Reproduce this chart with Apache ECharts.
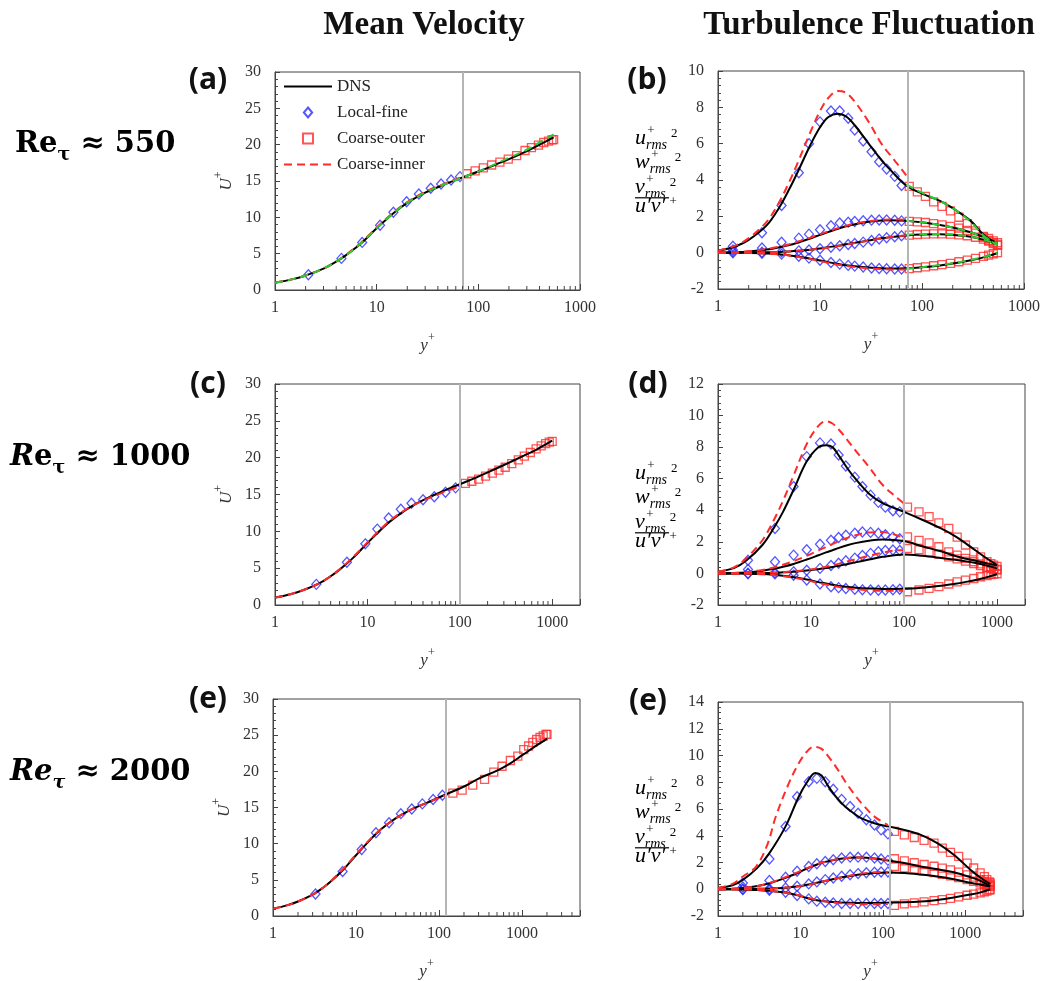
<!DOCTYPE html>
<html>
<head>
<meta charset="utf-8">
<script src="https://cdn.jsdelivr.net/npm/echarts@6/dist/echarts.min.js"></script>
<style>
  html, body { margin: 0; padding: 0; background: #fff; }
  #main { width: 1048px; height: 981px; }
</style>
</head>
<body>
<div id="main"></div>
<script>
// ---------- data ----------
// (a) Re_tau ~ 550, mean velocity U+
var aDnsX = [1, 1.5, 2, 3, 4, 5, 7, 10, 15, 20, 30, 50, 70, 100, 150, 200, 300, 400, 550];
var aDnsU = [1.0, 1.5, 2.0, 2.95, 3.9, 4.8, 6.4, 8.5, 10.7, 12.0, 13.4, 14.7, 15.5, 16.3, 17.3, 18.0, 19.1, 20.0, 21.0];
var aInnerX = [1, 1.5, 2, 3, 4, 5, 7, 10, 15, 20, 30, 50, 70];
var aInnerU = [1.0, 1.5, 2.0, 2.95, 3.9, 4.85, 6.5, 8.6, 10.8, 12.1, 13.5, 14.8, 15.6];
var aGreenX = [1, 1.5, 2, 3, 5, 7, 10, 15, 20, 30, 50, 70, 100, 150, 200, 300, 400, 550];
var aGreenU = [1.0, 1.5, 2.0, 2.95, 4.8, 6.45, 8.5, 10.7, 12.0, 13.4, 14.7, 15.5, 16.3, 17.4, 18.2, 19.3, 20.3, 21.4];
var aFineX = [2.13, 4.5, 7.2, 10.8, 14.6, 19.7, 26, 34, 43, 54, 66];
var aFineU = [2.1, 4.35, 6.55, 8.9, 10.7, 12.15, 13.2, 14.0, 14.6, 15.15, 15.6];
var aOuterX = [77, 93, 112, 135, 163, 197, 238, 288, 333, 390, 440, 490, 530, 550];
var aOuterU = [16.0, 16.4, 16.8, 17.2, 17.6, 18.0, 18.5, 19.2, 19.6, 19.95, 20.3, 20.5, 20.65, 20.7];

// (b) Re_tau ~ 550, fluctuations: uu, ww, vv, uv
var bDnsX = [1, 1.5, 2, 3, 4, 5, 6, 8, 10, 12, 15, 18, 22, 30, 40, 50, 70, 100, 150, 200, 300, 400, 550];
var bDnsUU = [0.1, 0.35, 0.7, 1.5, 2.5, 3.5, 4.4, 5.9, 6.9, 7.45, 7.65, 7.5, 7.0, 6.0, 5.1, 4.5, 3.7, 3.25, 2.85, 2.45, 1.75, 1.0, 0.45];
var bDnsWW = [0.0, 0.02, 0.06, 0.17, 0.3, 0.42, 0.55, 0.78, 0.98, 1.13, 1.32, 1.45, 1.57, 1.7, 1.77, 1.78, 1.75, 1.67, 1.52, 1.38, 1.12, 0.86, 0.52];
var bDnsVV = [0, 0, 0.01, 0.02, 0.04, 0.07, 0.1, 0.16, 0.23, 0.3, 0.38, 0.46, 0.54, 0.67, 0.79, 0.86, 0.95, 1.0, 1.01, 0.98, 0.88, 0.72, 0.45];
var bDnsUV = [0, 0, -0.01, -0.04, -0.09, -0.15, -0.21, -0.33, -0.43, -0.52, -0.62, -0.69, -0.75, -0.82, -0.86, -0.87, -0.86, -0.8, -0.7, -0.6, -0.42, -0.26, -0.02];
var bInnerX = [1, 1.5, 2, 3, 4, 5, 6, 8, 10, 12, 15, 18, 22, 30, 40, 50, 60, 70];
var bInnerUU = [0.1, 0.4, 0.8, 1.7, 2.8, 3.9, 4.9, 6.6, 7.8, 8.5, 8.9, 8.8, 8.3, 7.2, 6.0, 5.3, 4.75, 4.25];
var bInnerWW = [0, 0.03, 0.08, 0.2, 0.33, 0.46, 0.6, 0.82, 1.02, 1.17, 1.35, 1.48, 1.6, 1.73, 1.8, 1.82, 1.82, 1.8];
var bInnerVV = [0, 0, 0.01, 0.02, 0.04, 0.07, 0.1, 0.16, 0.22, 0.29, 0.37, 0.45, 0.53, 0.66, 0.78, 0.86, 0.92, 0.96];
var bInnerUV = [0, 0, -0.01, -0.05, -0.1, -0.16, -0.23, -0.35, -0.46, -0.56, -0.66, -0.73, -0.79, -0.86, -0.9, -0.92, -0.93, -0.93];
var bFineX = [1.4, 2.7, 4.2, 6.2, 7.8, 10, 12.8, 15.6, 18.9, 21.9, 26.5, 32, 38, 45, 54, 63];
var bFineUU = [0.35, 1.1, 2.6, 4.4, 6.0, 7.2, 7.8, 7.8, 7.4, 6.75, 6.15, 5.55, 5.0, 4.6, 4.2, 3.7];
var bFineWW = [0.15, 0.26, 0.57, 0.8, 1.02, 1.26, 1.48, 1.63, 1.68, 1.72, 1.76, 1.79, 1.8, 1.8, 1.78, 1.75];
var bFineVV = [0.05, 0.02, 0.05, 0.1, 0.15, 0.22, 0.3, 0.38, 0.45, 0.5, 0.58, 0.67, 0.75, 0.82, 0.88, 0.93];
var bFineUV = [0.0, -0.03, -0.08, -0.2, -0.3, -0.42, -0.54, -0.63, -0.7, -0.74, -0.79, -0.84, -0.87, -0.89, -0.9, -0.9];
var bOuterX = [75, 90, 108, 130, 157, 190, 230, 278, 335, 400, 450, 500, 550];
var bOuterUU = [3.65, 3.35, 3.1, 2.8, 2.55, 2.3, 1.95, 1.6, 1.2, 0.85, 0.65, 0.5, 0.4];
var bOuterWW = [1.72, 1.7, 1.66, 1.6, 1.53, 1.45, 1.35, 1.23, 1.08, 0.9, 0.78, 0.65, 0.55];
var bOuterVV = [0.97, 1.0, 1.02, 1.03, 1.03, 1.02, 0.98, 0.93, 0.85, 0.74, 0.65, 0.55, 0.45];
var bOuterUV = [-0.88, -0.83, -0.78, -0.72, -0.66, -0.59, -0.5, -0.41, -0.31, -0.2, -0.13, -0.06, 0.0];
var bGreenX = [70, 100, 150, 200, 300, 400, 550];
var bGreenUU = [3.75, 3.3, 2.85, 2.45, 1.7, 0.95, 0.4];
var bGreenWW = [1.75, 1.68, 1.52, 1.38, 1.12, 0.85, 0.52];
var bGreenVV = [0.98, 1.03, 1.03, 1.0, 0.88, 0.72, 0.45];
var bGreenUV = [-0.88, -0.8, -0.68, -0.58, -0.4, -0.24, -0.02];

// (c) Re_tau ~ 1000, mean velocity
var cDnsX = [1, 1.5, 2, 3, 4, 5, 7, 10, 15, 20, 30, 50, 70, 100, 150, 200, 300, 500, 700, 1000];
var cDnsU = [1.0, 1.5, 2.0, 2.95, 3.9, 4.8, 6.4, 8.4, 10.6, 11.9, 13.4, 14.8, 15.6, 16.4, 17.3, 18.0, 19.0, 20.3, 21.2, 22.3];
var cInnerX = [1, 1.5, 2, 3, 4, 5, 7, 10, 15, 20, 30, 50, 70, 100];
var cInnerU = [1.0, 1.5, 2.0, 2.95, 3.9, 4.85, 6.5, 8.5, 10.7, 12.0, 13.4, 14.7, 15.4, 16.1];
var cFineX = [2.8, 6, 9.5, 12.8, 17, 23, 30, 40, 53, 70, 90];
var cFineU = [2.8, 5.8, 8.3, 10.3, 11.8, 13.0, 13.8, 14.3, 14.7, 15.3, 15.9];
var cOuterX = [115, 135, 160, 190, 225, 265, 310, 365, 430, 500, 580, 670, 760, 850, 930, 1000];
var cOuterU = [16.5, 16.8, 17.1, 17.5, 17.9, 18.3, 18.7, 19.2, 19.7, 20.2, 20.7, 21.2, 21.6, 21.9, 22.1, 22.2];

// (d) Re_tau ~ 1000, fluctuations
var dDnsX = [1, 1.5, 2, 3, 4, 5, 6.5, 9, 12, 14.5, 17, 20, 25, 30, 42, 59, 100, 157, 250, 357, 450, 590, 800, 1000];
var dDnsUU = [0.1, 0.35, 0.8, 1.8, 2.9, 3.9, 5.3, 7.1, 8.0, 8.12, 8.0, 7.45, 6.6, 6.0, 5.05, 4.45, 3.9, 3.4, 2.85, 2.35, 1.95, 1.45, 0.9, 0.55];
var dDnsWW = [0.0, 0.02, 0.06, 0.17, 0.3, 0.42, 0.6, 0.88, 1.15, 1.33, 1.47, 1.62, 1.8, 1.92, 2.07, 2.15, 2.05, 1.72, 1.4, 1.1, 0.95, 0.8, 0.62, 0.5];
var dDnsVV = [0, 0, 0.01, 0.02, 0.04, 0.07, 0.11, 0.18, 0.27, 0.34, 0.41, 0.49, 0.6, 0.7, 0.88, 1.05, 1.2, 1.12, 0.98, 0.86, 0.78, 0.66, 0.48, 0.32];
var dDnsUV = [0, 0, -0.01, -0.04, -0.09, -0.15, -0.24, -0.38, -0.55, -0.64, -0.72, -0.79, -0.86, -0.9, -0.95, -0.98, -0.97, -0.9, -0.78, -0.65, -0.55, -0.42, -0.22, -0.05];
var dInnerX = [1, 1.5, 2, 3, 4, 5, 6.5, 9, 12, 14.5, 17, 20, 25, 30, 42, 59, 80, 100];
var dInnerUU = [0.1, 0.4, 0.95, 2.1, 3.4, 4.6, 6.2, 8.2, 9.35, 9.64, 9.5, 9.1, 8.4, 7.8, 6.75, 5.6, 4.9, 4.43];
var dInnerWW = [0, 0.03, 0.08, 0.22, 0.38, 0.55, 0.78, 1.12, 1.45, 1.68, 1.86, 2.05, 2.27, 2.42, 2.6, 2.62, 2.45, 2.25];
var dInnerVV = [0, 0, 0.01, 0.03, 0.05, 0.08, 0.13, 0.22, 0.33, 0.42, 0.52, 0.62, 0.77, 0.9, 1.12, 1.32, 1.45, 1.47];
var dInnerUV = [0, 0, -0.01, -0.05, -0.1, -0.17, -0.27, -0.43, -0.6, -0.7, -0.78, -0.86, -0.95, -1.0, -1.06, -1.1, -1.1, -1.08];
var dFineX = [2.1, 4.1, 6.5, 9, 12.5, 16.4, 19.8, 23.7, 29.6, 35.7, 43.7, 53, 63, 76, 90];
var dFineUU = [0.84, 2.85, 5.5, 7.4, 8.27, 8.2, 7.5, 6.8, 6.1, 5.5, 4.96, 4.5, 4.2, 3.97, 3.9];
var dFineWW = [0.25, 0.74, 1.16, 1.5, 1.85, 2.1, 2.28, 2.42, 2.55, 2.62, 2.6, 2.55, 2.45, 2.3, 2.2];
var dFineVV = [0.0, 0.04, 0.1, 0.2, 0.32, 0.5, 0.65, 0.8, 0.97, 1.13, 1.27, 1.38, 1.45, 1.48, 1.45];
var dFineUV = [0.0, -0.03, -0.12, -0.42, -0.67, -0.84, -0.9, -0.95, -1.0, -1.04, -1.05, -1.06, -1.05, -1.03, -1.0];
var dOuterX = [109, 145, 186, 237, 303, 373, 458, 563, 665, 780, 860, 920, 1000];
var dOuterUU = [4.2, 3.9, 3.6, 3.2, 2.85, 2.3, 1.8, 1.37, 1.05, 0.74, 0.62, 0.53, 0.45];
var dOuterWW = [2.32, 2.1, 1.94, 1.69, 1.37, 1.16, 0.95, 0.74, 0.6, 0.42, 0.35, 0.3, 0.25];
var dOuterVV = [1.58, 1.5, 1.35, 1.22, 1.05, 0.92, 0.78, 0.62, 0.5, 0.37, 0.31, 0.27, 0.22];
var dOuterUV = [-1.16, -1.05, -0.95, -0.84, -0.67, -0.53, -0.42, -0.32, -0.21, -0.13, -0.08, -0.04, -0.02];

// (e) Re_tau ~ 2000, mean velocity
var eDnsX = [1, 1.5, 2, 3, 4, 5, 7, 10, 15, 20, 30, 50, 70, 120, 200, 300, 500, 700, 1000, 1500, 2000];
var eDnsU = [1.0, 1.5, 2.0, 2.95, 3.9, 4.8, 6.4, 8.4, 10.6, 12.0, 13.5, 14.9, 15.6, 16.8, 17.9, 19.0, 20.1, 21.0, 22.2, 23.6, 24.5];
var eInnerX = [1, 1.5, 2, 3, 4, 5, 7, 10, 15, 20, 30, 50, 70, 120];
var eInnerU = [1.0, 1.5, 2.0, 2.95, 3.9, 4.85, 6.5, 8.5, 10.7, 12.0, 13.5, 14.9, 15.6, 16.7];
var eFineX = [3.25, 6.9, 11.7, 17.4, 25, 34.7, 47, 63, 85, 110];
var eFineU = [3.05, 6.15, 9.2, 11.5, 12.9, 14.15, 14.8, 15.5, 16.1, 16.7];
var eOuterX = [147, 190, 255, 354, 457, 575, 724, 890, 1050, 1200, 1350, 1500, 1650, 1800, 1950, 2000];
var eOuterU = [17.0, 17.4, 18.1, 18.9, 19.9, 20.7, 21.5, 22.1, 23.0, 23.5, 24.0, 24.4, 24.7, 24.9, 25.1, 25.1];

// (e, right) Re_tau ~ 2000, fluctuations
var fDnsX = [1, 1.5, 2, 3, 4.2, 6.6, 9.5, 12, 15.1, 18, 21.9, 27, 34.7, 45, 55, 79, 115, 182, 288, 457, 724, 1150, 1500, 2000];
var fDnsUU = [0.1, 0.3, 0.7, 1.6, 2.7, 4.7, 6.9, 8.0, 8.7, 8.5, 7.67, 6.9, 6.18, 5.65, 5.3, 4.94, 4.7, 4.44, 4.07, 3.45, 2.58, 1.46, 0.9, 0.4];
var fDnsWW = [0, 0.03, 0.1, 0.25, 0.45, 0.85, 1.25, 1.55, 1.8, 1.98, 2.1, 2.22, 2.32, 2.38, 2.38, 2.3, 2.15, 1.96, 1.7, 1.5, 1.27, 0.9, 0.65, 0.25];
var fDnsVV = [0, 0, 0.01, 0.03, 0.06, 0.12, 0.22, 0.33, 0.45, 0.56, 0.68, 0.8, 0.93, 1.05, 1.12, 1.22, 1.26, 1.22, 1.1, 0.95, 0.75, 0.48, 0.35, 0.2];
var fDnsUV = [0, 0, -0.01, -0.05, -0.12, -0.25, -0.47, -0.65, -0.8, -0.88, -0.93, -0.97, -1.0, -1.02, -1.03, -1.03, -1.0, -0.98, -0.92, -0.8, -0.62, -0.4, -0.25, 0.0];
var fInnerX = [1, 1.5, 2, 2.9, 4, 5, 7.2, 9.5, 12, 14.5, 18, 22, 28, 35, 45, 55, 79, 115];
var fInnerUU = [0.1, 0.4, 0.95, 1.7, 3.4, 5.4, 7.9, 9.4, 10.3, 10.65, 10.5, 9.9, 9.0, 8.04, 7.1, 6.43, 5.43, 4.81];
var fInnerWW = [0, 0.03, 0.1, 0.22, 0.42, 0.62, 1.0, 1.3, 1.58, 1.78, 1.98, 2.12, 2.25, 2.33, 2.38, 2.38, 2.3, 2.18];
var fInnerVV = [0, 0, 0.01, 0.03, 0.05, 0.08, 0.15, 0.23, 0.33, 0.42, 0.55, 0.68, 0.82, 0.95, 1.08, 1.17, 1.27, 1.3];
var fInnerUV = [0, 0, -0.01, -0.04, -0.1, -0.16, -0.3, -0.45, -0.62, -0.75, -0.87, -0.95, -1.02, -1.07, -1.1, -1.12, -1.12, -1.1];
var fFineX = [2, 4.2, 6.6, 9.1, 12.6, 15.8, 20, 25, 31.6, 40, 50, 63, 79, 95, 115];
var fFineUU = [0.47, 2.26, 4.69, 6.92, 8.04, 8.29, 8.04, 7.47, 6.72, 6.18, 5.68, 5.19, 4.81, 4.44, 4.14];
var fFineWW = [0.17, 0.65, 0.9, 1.34, 1.7, 1.9, 2.08, 2.2, 2.33, 2.4, 2.4, 2.4, 2.33, 2.26, 2.16];
var fFineVV = [0.0, 0.02, 0.1, 0.22, 0.4, 0.55, 0.72, 0.84, 0.97, 1.09, 1.17, 1.24, 1.27, 1.29, 1.29];
var fFineUV = [-0.02, -0.07, -0.22, -0.47, -0.72, -0.89, -0.97, -1.02, -1.07, -1.07, -1.07, -1.07, -1.07, -1.07, -1.07];
var fOuterX = [138, 182, 240, 316, 417, 525, 660, 830, 1050, 1260, 1510, 1700, 1820, 1950, 2000];
var fOuterUU = [4.32, 4.07, 3.87, 3.65, 3.45, 3.08, 2.75, 2.46, 1.96, 1.59, 1.22, 0.95, 0.72, 0.55, 0.47];
var fOuterWW = [2.28, 2.12, 1.98, 1.85, 1.72, 1.58, 1.45, 1.28, 1.08, 0.9, 0.72, 0.58, 0.48, 0.38, 0.33];
var fOuterVV = [1.7, 1.6, 1.5, 1.38, 1.25, 1.12, 1.0, 0.87, 0.72, 0.6, 0.48, 0.38, 0.3, 0.25, 0.22];
var fOuterUV = [-1.2, -1.1, -1.02, -0.95, -0.85, -0.77, -0.68, -0.57, -0.45, -0.36, -0.27, -0.2, -0.14, -0.06, -0.03];

// y+ where the local-fine / coarse-outer regions meet (grey line), per panel
var splitYPlus = [70, 72, 100, 100, 120, 120];
var xMax = [1000, 1000, 2000, 2000, 5000, 5000];
var yRange = [[0, 30, 5], [-2, 10, 2], [0, 30, 5], [-2, 12, 2], [0, 30, 5], [-2, 14, 2]];
var minorTo1000 = [2, 3, 4, 5, 6, 7, 8, 9, 20, 30, 40, 50, 60, 70, 80, 90, 200, 300, 400, 500, 600, 700, 800, 900];
var minorTo5000 = [2, 3, 4, 5, 6, 7, 8, 9, 20, 30, 40, 50, 60, 70, 80, 90, 200, 300, 400, 500, 600, 700, 800, 900, 2000, 3000, 4000];
var minorTicks = [minorTo1000, minorTo1000, minorTo1000, minorTo1000, minorTo5000, minorTo5000];

// ---------- chart ----------
var SERIF = '"Liberation Serif", "Times New Roman", serif';
var BLACK = '#000', BLUE = '#2b2bff', RED = '#ff2b2b', GREEN = '#2ccc2c', AXIS = '#444';

var grids = [
  { left: 275, top: 72, width: 305, height: 218 },
  { left: 718, top: 71, width: 306, height: 218 },
  { left: 275, top: 384, width: 305, height: 221 },
  { left: 718, top: 384, width: 307, height: 221 },
  { left: 273, top: 699, width: 307, height: 219 },
  { left: 718, top: 702, width: 305, height: 215 }
];

function pts(xs, ys) { return xs.map(function (x, i) { return [x, ys[i]]; }); }

function curve(name, g, xs, ys, color, dashed) {
  return {
    name: name, type: 'line', xAxisIndex: g, yAxisIndex: g, data: pts(xs, ys),
    symbol: 'none', smooth: 0.35, silent: true, z: dashed ? 4 : 3,
    lineStyle: { color: color, width: 2, type: dashed ? [8, 5] : 'solid' },
    itemStyle: { color: color }
  };
}

function marks(name, g, xs, ys, shape, color, size) {
  return {
    name: name, type: 'scatter', xAxisIndex: g, yAxisIndex: g, data: pts(xs, ys),
    symbol: shape, symbolSize: size, silent: true, z: 2,
    itemStyle: { color: 'rgba(0,0,0,0)', borderColor: color, borderWidth: 1.3 }
  };
}

function greyLine(v) {
  return {
    silent: true, symbol: 'none', label: { show: false },
    lineStyle: { color: '#b5b5b5', width: 2, type: 'solid' },
    data: [{ xAxis: v }]
  };
}

function tickSeries(g) {
  var yMin = yRange[g][0];
  return {
    type: 'custom', xAxisIndex: g, yAxisIndex: g, silent: true, z: 5,
    data: minorTicks[g].map(function (t) { return [t, yMin]; }),
    renderItem: function (params, api) {
      var p = api.coord([api.value(0), api.value(1)]);
      return { type: 'line', shape: { x1: p[0], y1: p[1], x2: p[0], y2: p[1] - 4 },
        style: { stroke: AXIS, lineWidth: 1 } };
    }
  };
}

var series = [];

function addMean(g, dnsX, dnsU, innerX, innerU, fineX, fineU, outerX, outerU) {
  series.push(marks('Coarse-outer', g, outerX, outerU, 'rect', RED, 8));
  series.push(marks('Local-fine', g, fineX, fineU, 'diamond', BLUE, [9, 10]));
  var s = curve('DNS', g, dnsX, dnsU, BLACK, false);
  s.markLine = greyLine(splitYPlus[g]);
  series.push(s);
  series.push(curve('Coarse-inner', g, innerX, innerU, RED, true));
}

function addFluct(g, dnsX, dns, innerX, inner, fineX, fine, outerX, outer) {
  outer.forEach(function (ys) { series.push(marks('Coarse-outer', g, outerX, ys, 'rect', RED, 8)); });
  fine.forEach(function (ys) { series.push(marks('Local-fine', g, fineX, ys, 'diamond', BLUE, [9, 10])); });
  dns.forEach(function (ys, k) {
    var s = curve('DNS', g, dnsX, ys, BLACK, false);
    if (k === 0) s.markLine = greyLine(splitYPlus[g]);
    series.push(s);
  });
  inner.forEach(function (ys) { series.push(curve('Coarse-inner', g, innerX, ys, RED, true)); });
}

addMean(0, aDnsX, aDnsU, aInnerX, aInnerU, aFineX, aFineU, aOuterX, aOuterU);
series.push(curve('green', 0, aGreenX, aGreenU, GREEN, true));
addFluct(1, bDnsX, [bDnsUU, bDnsWW, bDnsVV, bDnsUV], bInnerX, [bInnerUU, bInnerWW, bInnerVV, bInnerUV],
  bFineX, [bFineUU, bFineWW, bFineVV, bFineUV], bOuterX, [bOuterUU, bOuterWW, bOuterVV, bOuterUV]);
[bGreenUU, bGreenWW, bGreenVV, bGreenUV].forEach(function (ys) {
  series.push(curve('green', 1, bGreenX, ys, GREEN, true));
});
addMean(2, cDnsX, cDnsU, cInnerX, cInnerU, cFineX, cFineU, cOuterX, cOuterU);
addFluct(3, dDnsX, [dDnsUU, dDnsWW, dDnsVV, dDnsUV], dInnerX, [dInnerUU, dInnerWW, dInnerVV, dInnerUV],
  dFineX, [dFineUU, dFineWW, dFineVV, dFineUV], dOuterX, [dOuterUU, dOuterWW, dOuterVV, dOuterUV]);
addMean(4, eDnsX, eDnsU, eInnerX, eInnerU, eFineX, eFineU, eOuterX, eOuterU);
addFluct(5, fDnsX, [fDnsUU, fDnsWW, fDnsVV, fDnsUV], fInnerX, [fInnerUU, fInnerWW, fInnerVV, fInnerUV],
  fFineX, [fFineUU, fFineWW, fFineVV, fFineUV], fOuterX, [fOuterUU, fOuterWW, fOuterVV, fOuterUV]);
for (var g = 0; g < 6; g++) series.push(tickSeries(g));

function isDecade(v) {
  var l = Math.log10(v);
  return Math.abs(l - Math.round(l)) < 1e-6;
}

var supRich = {
  i: { fontFamily: SERIF, fontStyle: 'italic', fontSize: 17, color: '#333', padding: [5, 0, 0, 0] },
  s: { fontFamily: SERIF, fontSize: 12, color: '#333', verticalAlign: 'top' }
};

var xAxes = grids.map(function (gr, i) {
  return {
    type: 'log', logBase: 10, gridIndex: i, min: 1, max: xMax[i],
    axisLine: { show: true, onZero: false, lineStyle: { color: AXIS, width: 1 } },
    axisTick: { show: true, inside: true, length: 6, lineStyle: { color: AXIS } },
    splitLine: { show: false },
    axisLabel: {
      fontFamily: SERIF, fontSize: 16, color: '#333', margin: 10,
      formatter: function (v) { return isDecade(v) ? String(Math.round(v)) : ''; }
    },
    name: '{i|y}{s|+}', nameLocation: 'middle', nameGap: 42,
    nameTextStyle: { rich: supRich }
  };
});

var yAxes = grids.map(function (gr, i) {
  return {
    type: 'value', gridIndex: i, min: yRange[i][0], max: yRange[i][1], interval: yRange[i][2],
    axisLine: { show: true, onZero: false, lineStyle: { color: AXIS, width: 1 } },
    axisTick: { show: true, inside: true, length: 5, lineStyle: { color: AXIS } },
    minorTick: { show: true, splitNumber: 5, length: 3, lineStyle: { color: AXIS } },
    splitLine: { show: false },
    axisLabel: { fontFamily: SERIF, fontSize: 16, color: '#333', margin: 14 },
    name: i % 2 === 0 ? '{i|U}{s|+}' : '', nameLocation: 'middle', nameRotate: 90, nameGap: 40,
    nameTextStyle: { rich: supRich }
  };
});

// texts
var reRich = {
  r: { fontFamily: 'DejaVu Serif', fontWeight: 'bold', fontSize: 29, color: '#111', padding: [0, 0, 6, 0] },
  ri: { fontFamily: 'DejaVu Serif', fontWeight: 'bold', fontStyle: 'italic', fontSize: 29, color: '#111', padding: [0, 0, 6, 0] },
  t: { fontFamily: 'DejaVu Serif', fontWeight: 'bold', fontSize: 19, color: '#111', verticalAlign: 'bottom' },
  ti: { fontFamily: 'DejaVu Serif', fontWeight: 'bold', fontStyle: 'italic', fontSize: 19, color: '#111', verticalAlign: 'bottom' }
};

function txt(x, y, text, font, align) {
  return { type: 'text', x: x, y: y, silent: true,
    style: { text: text, font: font, fill: '#111', align: align || 'center', verticalAlign: 'middle',
      textAlign: align || 'center', textVerticalAlign: 'middle' } };
}

function richTxt(x, y, text, rich) {
  return { type: 'text', x: x, y: y, silent: true,
    style: { text: text, rich: rich, align: 'left', verticalAlign: 'middle', textAlign: 'left', textVerticalAlign: 'middle' } };
}

var flRich = {
  m: { fontFamily: SERIF, fontStyle: 'italic', fontSize: 22, color: '#333', padding: [0, 0, 3, 0] },
  s: { fontFamily: SERIF, fontStyle: 'italic', fontSize: 14, color: '#333', verticalAlign: 'bottom' },
  p: { fontFamily: SERIF, fontSize: 13, color: '#333', verticalAlign: 'top', padding: [0, 0, 0, 4] }
};

function fluctLabel(x, y) {
  var els = [];
  var rows = [['u', 0, 11], ['w', 24, 15], ['v', 49, 10]];
  rows.forEach(function (r) {
    els.push(richTxt(x, y + r[1], '{m|' + r[0] + '}{s|rms}{p|2}', flRich));
    els.push(txt(x + r[2] + 5, y + r[1] - 9, '+', '13px ' + SERIF));
  });
  els.push({ type: 'rect', silent: true, shape: { x: x, y: y + 57, width: 34, height: 1.4 }, style: { fill: '#333' } });
  els.push(richTxt(x, y + 68, '{m|u\u2032v\u2032}{p|+}', flRich));
  return els;
}

var graphics = [
  txt(424, 25, 'Mean Velocity', 'bold 33px ' + SERIF),
  txt(869, 25, 'Turbulence Fluctuation', 'bold 33px ' + SERIF),
  richTxt(15, 147, '{r|Re}{t|\u03c4}{r| \u2248 550}', reRich),
  richTxt(10, 460, '{ri|R}{r|e}{t|\u03c4}{r| \u2248 1000}', reRich),
  richTxt(10, 775, '{ri|Re}{ti|\u03c4}{r| \u2248 2000}', reRich),
  txt(208, 80, '(a)', 'bold 30px "Open Sans"'),
  txt(647, 80, '(b)', 'bold 30px "Open Sans"'),
  txt(208, 384, '(c)', 'bold 30px "Open Sans"'),
  txt(648, 384, '(d)', 'bold 30px "Open Sans"'),
  txt(208, 699, '(e)', 'bold 30px "Open Sans"'),
  txt(648, 701, '(e)', 'bold 30px "Open Sans"')
].concat(fluctLabel(635, 140), fluctLabel(635, 475), fluctLabel(635, 790));

var chartDom = document.getElementById('main');
var myChart = echarts.init(chartDom, null, { renderer: 'canvas' });
var option = {
  backgroundColor: '#fff',
  animation: false,
  grid: grids.map(function (g) {
    return Object.assign({ show: true, borderColor: AXIS, borderWidth: 1, backgroundColor: 'transparent' }, g);
  }),
  xAxis: xAxes,
  yAxis: yAxes,
  legend: {
    data: [
      { name: 'DNS', itemStyle: { opacity: 0 } },
      { name: 'Local-fine', icon: 'path://M5 0L10 6L5 12L0 6Z' },
      { name: 'Coarse-outer', icon: 'path://M0 0H10V10H0Z' },
      { name: 'Coarse-inner', itemStyle: { opacity: 0 } }
    ],
    orient: 'vertical', left: 278, top: 73, itemWidth: 48, itemHeight: 10, itemGap: 9,
    symbolKeepAspect: true, selectedMode: false,
    textStyle: { fontFamily: SERIF, fontSize: 17, color: '#222' }
  },
  graphic: graphics,
  series: series
};
option && myChart.setOption(option);
</script>
</body>
</html>
